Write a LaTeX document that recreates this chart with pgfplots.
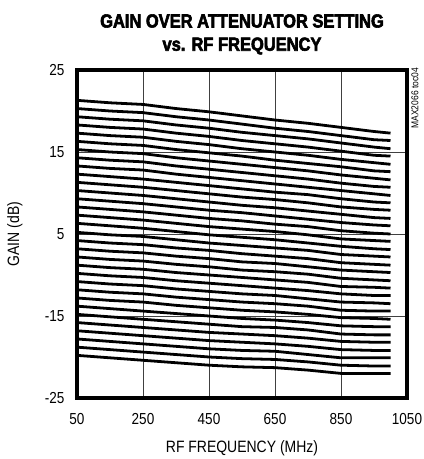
\documentclass[border=0pt]{standalone}
\usepackage{fontspec}
\setmainfont{Liberation Sans}[FakeStretch=0.85]
\newfontfamily\titlefont{Liberation Sans Bold}[FakeStretch=0.87,FakeBold=3]
\usepackage{pgfplots}
\usepackage{pgfplotstable}
\pgfplotsset{compat=1.18}
\pgfplotstableread[header=false]{
50   21.3 20.3 19.3 18.3 17.3 16.3 15.3 14.3 13.3 12.3 11.3 10.3 9.3 8.3 7.3 6.3 5.2 4.2 3.2 2.2 1.2 0.2 -0.8 -1.8 -2.8 -3.8 -4.8 -5.8 -6.8 -7.8 -8.8 -9.8
150  21.0 20.0 19.0 18.0 17.0 16.0 15.0 14.0 13.0 12.0 11.0 10.0 9.0 8.0 7.0 6.0 4.9 3.9 2.9 1.9 0.9 -0.1 -1.1 -2.1 -3.1 -4.1 -5.1 -6.1 -7.1 -8.1 -9.1 -10.1
250  20.8 19.8 18.8 17.8 16.8 15.8 14.8 13.8 12.8 11.7 10.7 9.7 8.7 7.7 6.7 5.7 4.7 3.7 2.7 1.7 0.7 -0.3 -1.3 -2.3 -3.3 -4.4 -5.4 -6.4 -7.4 -8.4 -9.4 -10.4
350  20.3 19.3 18.3 17.3 16.3 15.3 14.3 13.3 12.3 11.3 10.3 9.3 8.3 7.3 6.3 5.3 4.3 3.3 2.3 1.3 0.3 -0.7 -1.7 -2.7 -3.7 -4.7 -5.7 -6.7 -7.7 -8.7 -9.7 -10.7
450  19.9 18.9 17.9 16.9 15.9 14.9 13.9 12.9 11.9 10.9 9.9 8.9 7.9 6.9 5.9 4.9 3.9 3.0 2.0 1.0 0.0 -1.0 -2.0 -3.0 -4.0 -5.0 -6.0 -7.0 -8.0 -9.0 -10.0 -11.0
550  19.4 18.4 17.4 16.4 15.4 14.5 13.5 12.5 11.5 10.5 9.5 8.5 7.6 6.6 5.6 4.6 3.6 2.6 1.6 0.6 -0.3 -1.3 -2.3 -3.3 -4.3 -5.3 -6.3 -7.2 -8.2 -9.2 -10.2 -11.2
650  18.9 17.9 17.0 16.0 15.0 14.0 13.1 12.1 11.1 10.1 9.2 8.2 7.2 6.2 5.3 4.3 3.3 2.3 1.4 0.4 -0.6 -1.6 -2.5 -3.5 -4.5 -5.5 -6.4 -7.4 -8.4 -9.3 -10.3 -11.3
750  18.5 17.5 16.6 15.6 14.6 13.6 12.7 11.7 10.7 9.8 8.8 7.8 6.8 5.9 4.9 3.9 3.0 2.0 1.0 0.1 -0.9 -1.9 -2.9 -3.8 -4.8 -5.8 -6.7 -7.7 -8.7 -9.7 -10.6 -11.6
850  18.0 17.0 16.1 15.1 14.1 13.2 12.2 11.2 10.3 9.3 8.3 7.4 6.4 5.4 4.4 3.5 2.5 1.5 0.6 -0.4 -1.4 -2.3 -3.3 -4.3 -5.2 -6.2 -7.2 -8.1 -9.1 -10.1 -11.0 -12.0
950  17.5 16.5 15.6 14.6 13.7 12.7 11.8 10.8 9.9 8.9 8.0 7.0 6.1 5.1 4.2 3.2 2.3 1.3 0.4 -0.6 -1.5 -2.5 -3.4 -4.4 -5.3 -6.3 -7.3 -8.2 -9.2 -10.1 -11.1 -12.0
1000 17.3 16.4 15.4 14.5 13.5 12.6 11.6 10.7 9.7 8.8 7.9 6.9 6.0 5.0 4.1 3.1 2.2 1.2 0.3 -0.7 -1.6 -2.5 -3.5 -4.4 -5.4 -6.3 -7.3 -8.2 -9.2 -10.1 -11.1 -12.0
}\gaindata
\begin{document}
\begin{tikzpicture}
\useasboundingbox (-77bp,-61bp) rectangle (347bp,398bp);
\begin{axis}[
  at={(0,0)}, anchor=south west,
  scale only axis, width=330bp, height=328bp,
  xmin=50, xmax=1050, ymin=-15, ymax=25,
  xtick={50,250,450,650,850,1050},
  xticklabels={50,250,450,650,850,1050},
  ytick={-15,-5,5,15,25},
  yticklabels={-25,-15,5,15,25},
  grid=major, grid style={line width=0.9pt, black!75},
  axis line style={line width=3.2pt},
  major tick length=0pt,
  tick label style={font=\fontsize{16}{18}\selectfont},
  xticklabel shift=12bp, yticklabel shift=9bp,
  xlabel={RF FREQUENCY (MHz)}, ylabel={GAIN (dB)},
  label style={font=\fontsize{16.5}{18}\selectfont},
  xlabel style={at={(axis description cs:0.5,-0.152)}, anchor=center},
  ylabel style={at={(axis description cs:-0.188,0.5)}, anchor=center},
]
\pgfplotsinvokeforeach{1,...,32}{
  \addplot[black, line width=2.8pt, line join=round, mark=none] table[x index=0, y index=#1]{\gaindata};
}
\end{axis}
\node[font=\titlefont\fontsize{19}{21}\selectfont, inner sep=0] at (165bp,377bp) {GAIN OVER ATTENUATOR SETTING};
\node[font=\titlefont\fontsize{19}{21}\selectfont, inner sep=0] at (165bp,352bp) {vs. RF FREQUENCY};
\node[rotate=90, anchor=east, font=\fontsize{10}{11}\selectfont, inner sep=0] at (338bp,330bp) {MAX2066 toc04};
\end{tikzpicture}
\end{document}
